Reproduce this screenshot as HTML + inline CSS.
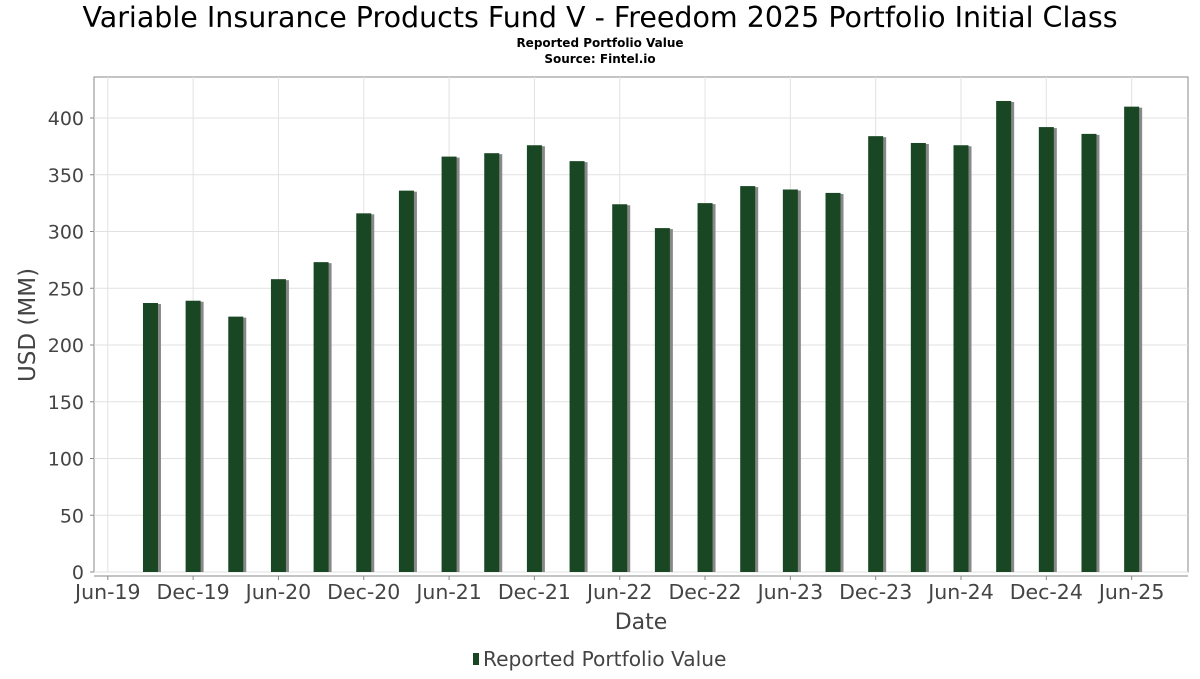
<!DOCTYPE html>
<html><head><meta charset="utf-8"><style>
body{margin:0;background:#fff;font-family:"DejaVu Sans","Liberation Sans",sans-serif;}
</style></head><body>
<svg width="1200" height="675" xmlns="http://www.w3.org/2000/svg" font-family="DejaVu Sans, Liberation Sans, sans-serif">
<text x="600" y="27" text-anchor="middle" font-size="28.5" fill="#000">Variable Insurance Products Fund V - Freedom 2025 Portfolio Initial Class</text>
<text x="600" y="47" text-anchor="middle" font-size="12" font-weight="bold">Reported Portfolio Value</text>
<text x="600" y="63" text-anchor="middle" font-size="12" font-weight="bold">Source: Fintel.io</text>
<rect x="94" y="77" width="1094" height="495" fill="#fff" stroke="#888"/>
<g id="grid"></g><g id="bars"></g><g id="axes"></g>
<text x="35" y="325" transform="rotate(-90 35 325)" text-anchor="middle" font-size="23" fill="#444">USD (MM)</text>
<text x="641" y="629" text-anchor="middle" font-size="22" fill="#444">Date</text>
<g><rect x="473" y="653" width="6" height="12" fill="#1a4723"/><text x="483" y="666" font-size="20.2" fill="#444">Reported Portfolio Value</text></g>
</svg>
<script>
const dates=["Sep-19","Dec-19","Mar-20","Jun-20","Sep-20","Dec-20","Mar-21","Jun-21","Sep-21","Dec-21","Mar-22","Jun-22","Sep-22","Dec-22","Mar-23","Jun-23","Sep-23","Dec-23","Mar-24","Jun-24","Sep-24","Dec-24","Mar-25","Jun-25"];
const values=[237,239,225,258,273,316,336,366,369,376,362,324,303,325,340,337,334,384,378,376,415,392,386,410];
const yTicks=[0,50,100,150,200,250,300,350,400];
const xTicks=["Jun-19","Dec-19","Jun-20","Dec-20","Jun-21","Dec-21","Jun-22","Dec-22","Jun-23","Dec-23","Jun-24","Dec-24","Jun-25"];
const NS="http://www.w3.org/2000/svg";
const mon={Jan:0,Feb:1,Mar:2,Apr:3,May:4,Jun:5,Jul:6,Aug:7,Sep:8,Oct:9,Nov:10,Dec:11};
function mIdx(s){const [m,y]=s.split("-");return (2000+ +y)*12+mon[m];}
const m0=mIdx("Jun-19");
function x(s){return 107.8+(mIdx(s)-m0)*14.22;}
function y(v){return 572-v*1.135;}
function mk(tag,attrs,parent){const e=document.createElementNS(NS,tag);for(const k in attrs)e.setAttribute(k,attrs[k]);document.getElementById(parent).appendChild(e);return e;}
yTicks.forEach(t=>{
 const l=mk("line",{x1:94,x2:1188,y1:y(t),y2:y(t),stroke:"#e2e2e2"},"grid");
 
 
 mk("line",{x1:90,x2:94,y1:y(t),y2:y(t),stroke:"#888"},"axes");
 const tx=mk("text",{x:84,y:y(t)+7,"text-anchor":"end","font-size":19,fill:"#444"},"axes");
 tx.textContent=t;
 
 
});
xTicks.forEach(t=>{
 const l=mk("line",{x1:x(t),x2:x(t),y1:77,y2:572,stroke:"#e2e2e2"},"grid");
 
 
 mk("line",{x1:x(t),x2:x(t),y1:576,y2:580,stroke:"#888"},"axes");
 const tx=mk("text",{x:x(t),y:599,"text-anchor":"middle","font-size":20.5,fill:"#444"},"axes");
 tx.textContent=t;
 
 
});
mk("line",{x1:94,x2:1188,y1:576,y2:576,stroke:"#888"},"axes");
values.forEach((v,i)=>{
 const cx=x(dates[i]);
 mk("rect",{x:cx-4.5,y:y(v)+1,width:15,height:572-y(v)-1,fill:"#888"},"bars");
 const b=mk("rect",{x:cx-7.5,y:y(v),width:15,height:572-y(v),fill:"#1a4723"},"bars");
 
 
});
</script>
</body></html>
